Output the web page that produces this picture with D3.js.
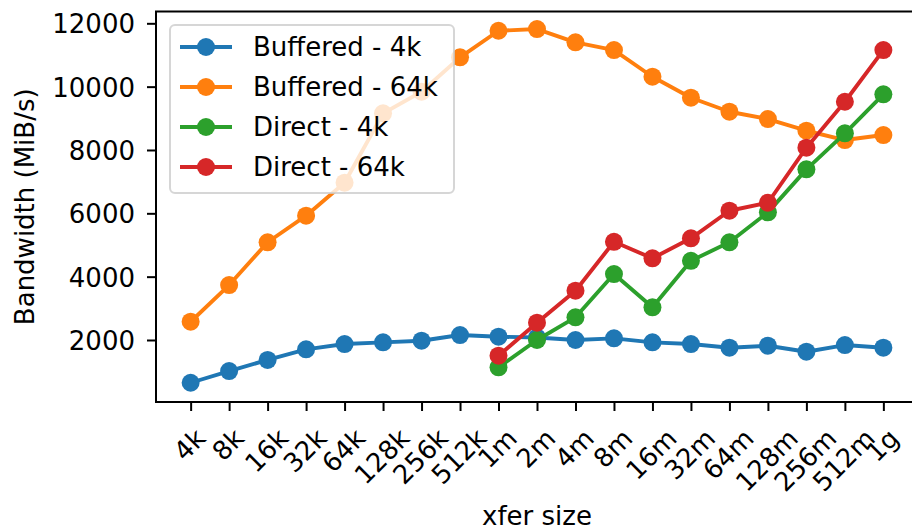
<!DOCTYPE html>
<html>
<head>
<meta charset="utf-8">
<script src="https://cdn.jsdelivr.net/npm/d3@7"></script>
<style>
  html, body { margin: 0; padding: 0; background: #fff; }
  svg { display: block; font-family: "DejaVu Sans", sans-serif; }
</style>
</head>
<body>
<svg id="chart" width="912" height="527"></svg>
<script>
// ---- data ----
const categories = ["4k","8k","16k","32k","64k","128k","256k","512k","1m","2m","4m","8m","16m","32m","64m","128m","256m","512m","1g"];
const bufferedSmall = [650, 1020, 1370, 1705, 1872, 1926, 1977, 2157, 2103, 2080, 2000, 2052, 1926, 1872, 1756, 1819, 1630, 1840, 1756];
const bufferedLarge = [2577, 3735, 5086, 5924, 6966, 9157, 9839, 10925, 11765, 11819, 11399, 11156, 10313, 9650, 9208, 8977, 8608, 8314, 8472];
const directSmall   = [null, null, null, null, null, null, null, null, 1137, 2000, 2716, 4083, 3031, 4500, 5084, 6031, 7389, 8526, 9757];
const directLarge   = [null, null, null, null, null, null, null, null, 1503, 2545, 3556, 5100, 4580, 5210, 6082, 6334, 8071, 9523, 11156];
const seriesNames = ["Buffered - 4k", "Buffered - 64k", "Direct - 4k", "Direct - 64k"];
const yTicks = [2000, 4000, 6000, 8000, 10000, 12000];
const xLabel = "xfer size";
const yLabel = "Bandwidth (MiB/s)";

const seriesValues = [bufferedSmall, bufferedLarge, directSmall, directLarge];
const colors = ["#1f77b4", "#ff7f0e", "#2ca02c", "#d62728"];

// ---- layout ----
const FS = 26;
const L = 156, R = 918, T = 11.5, B = 402;
const svg = d3.select("#chart");

const x = d3.scalePoint().domain(categories).range([L, R]).padding(0.9);
const y = d3.scaleLinear().domain([42, 12373]).range([B, T]);

svg.append("defs").append("clipPath").attr("id", "clip")
  .append("rect").attr("x", L).attr("y", T).attr("width", R - L).attr("height", B - T);

// ---- series ----
const plot = svg.append("g").attr("clip-path", "url(#clip)");
const line = d3.line()
  .defined(d => d.v != null)
  .x(d => x(d.c))
  .y(d => y(d.v));

seriesValues.forEach((vals, i) => {
  const pts = categories.map((c, j) => ({ c, v: vals[j] }));
  const g = plot.append("g");
  g.append("path")
    .attr("d", line(pts))
    .attr("fill", "none")
    .attr("stroke", colors[i])
    .attr("stroke-width", 3.9)
    .attr("stroke-linejoin", "round")
    .attr("stroke-linecap", "butt");
  g.selectAll("circle").data(pts.filter(d => d.v != null)).enter()
    .append("circle")
    .attr("cx", d => x(d.c))
    .attr("cy", d => y(d.v))
    .attr("r", 9)
    .attr("fill", colors[i]);
});

// ---- axes ----
const yAxis = svg.append("g").attr("transform", `translate(${L},0)`)
  .call(d3.axisLeft(y).tickValues(yTicks).tickSize(9).tickPadding(12).tickFormat(d3.format("d")));
yAxis.select(".domain").remove();
yAxis.selectAll(".tick line").attr("stroke", "#000").attr("stroke-width", 2);
yAxis.selectAll(".tick text")
  .attr("fill", "#000")
  .style("font-size", FS + "px")
  .style("font-family", "DejaVu Sans")
  .attr("dy", "0.36em");

const xAxis = svg.append("g").attr("transform", `translate(0,${B})`)
  .call(d3.axisBottom(x).tickSize(9).tickPadding(0));
xAxis.select(".domain").remove();
xAxis.selectAll(".tick line").attr("stroke", "#000").attr("stroke-width", 2);
xAxis.selectAll(".tick text")
  .attr("fill", "#000")
  .style("font-size", FS + "px")
  .style("font-family", "DejaVu Sans")
  .attr("text-anchor", "middle")
  .attr("y", 0)
  .attr("dy", 0)
  .each(function () {
    const t = d3.select(this);
    const w = this.getComputedTextLength();
    const h = 0.996 * FS;
    const top = 24;
    const cy = top + (w + h) / (2 * Math.SQRT2);
    t.attr("transform", `translate(0,${cy}) rotate(-45)`)
     .attr("y", 0.262 * FS);
  });

// spines
svg.append("rect")
  .attr("x", L).attr("y", T).attr("width", R - L).attr("height", B - T)
  .attr("fill", "none").attr("stroke", "#000").attr("stroke-width", 2);

// axis labels
svg.append("text")
  .attr("x", (L + R) / 2).attr("y", 525)
  .attr("text-anchor", "middle")
  .style("font-size", FS + "px")
  .attr("fill", "#000")
  .text(xLabel);

svg.append("text")
  .attr("transform", `translate(34,${(T + B) / 2}) rotate(-90)`)
  .attr("text-anchor", "middle")
  .style("font-size", FS + "px")
  .attr("fill", "#000")
  .text(yLabel);

// ---- legend ----
const lg = svg.append("g");
lg.append("rect")
  .attr("x", 170).attr("y", 25).attr("width", 284).attr("height", 168)
  .attr("rx", 5).attr("ry", 5)
  .attr("fill", "#fff").attr("fill-opacity", 0.8)
  .attr("stroke", "#ccc").attr("stroke-opacity", 0.8).attr("stroke-width", 2);
seriesNames.forEach((name, i) => {
  const cy = 47 + i * 40;
  lg.append("line")
    .attr("x1", 180).attr("x2", 232).attr("y1", cy).attr("y2", cy)
    .attr("stroke", colors[i]).attr("stroke-width", 3.9);
  lg.append("circle").attr("cx", 206).attr("cy", cy).attr("r", 9).attr("fill", colors[i]);
  lg.append("text")
    .attr("x", 253).attr("y", cy + 8.5)
    .style("font-size", FS + "px")
    .attr("fill", "#000")
    .text(name);
});
</script>
</body>
</html>
